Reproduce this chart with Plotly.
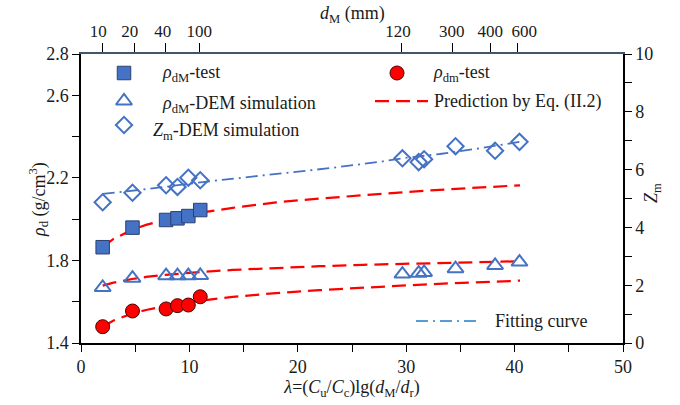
import plotly.graph_objects as go

# ---------------- data ----------------
lam_test = [2.0, 4.75, 7.85, 8.9, 9.9, 11.0]
rho_dM_test = [1.864, 1.959, 1.996, 2.004, 2.015, 2.044]
rho_dm_test = [1.479, 1.555, 1.565, 1.581, 1.584, 1.624]

lam_dem = [2.0, 4.75, 7.85, 8.9, 9.9, 11.0, 29.65, 31.15, 31.65, 34.55, 38.2, 40.45]
rho_dM_dem = [1.669, 1.714, 1.726, 1.726, 1.726, 1.727, 1.734, 1.738, 1.742, 1.760, 1.776, 1.792]
z_dem = [4.87, 5.20, 5.46, 5.40, 5.72, 5.63, 6.39, 6.26, 6.36, 6.81, 6.65, 6.96]

lam_pred = [2, 3, 4.7, 6, 7.8, 9, 11, 14, 18, 22, 26, 30, 34, 38, 40.5]
pred_dM_test = [1.864, 1.904, 1.948, 1.972, 1.997, 2.011, 2.031, 2.055, 2.081, 2.100, 2.117, 2.131, 2.145, 2.157, 2.164]
pred_dM_dem = [1.678, 1.692, 1.710, 1.720, 1.730, 1.736, 1.744, 1.754, 1.764, 1.772, 1.779, 1.784, 1.789, 1.794, 1.796]
pred_dm_test = [1.479, 1.509, 1.542, 1.560, 1.580, 1.590, 1.605, 1.623, 1.642, 1.656, 1.669, 1.679, 1.689, 1.697, 1.702]

lam_fit = [2, 6.2, 11.25, 14.4, 19, 22.7, 27.6, 29.6, 33.1, 36.5, 39.9, 40.45]
z_fit = [5.16, 5.33, 5.57, 5.71, 5.89, 6.04, 6.27, 6.39, 6.54, 6.72, 6.92, 6.96]

x_ticks = [0, 10, 20, 30, 40, 50]
rho_ticks = [1.4, 1.6, 1.8, 2.0, 2.2, 2.4, 2.6, 2.8]
rho_ticktext = ["1.4", "", "1.8", "", "2.2", "", "2.6", "2.8"]
z_ticks = [0, 1, 2, 3, 4, 5, 6, 7, 8, 9, 10]
z_ticktext = ["0", "", "2", "", "4", "", "6", "", "8", "", "10"]
# top d_M axis: tick marks and (slightly offset) label positions, in lambda units
top_tick_lam = [2.0, 4.9, 7.8, 10.9, 29.6, 34.3, 37.8, 40.3]
top_label_lam = [1.6, 4.5, 7.55, 10.9, 29.25, 34.2, 37.75, 40.9]
top_tick_text = ["10", "20", "40", "100", "120", "300", "400", "600"]

# ---------------- styling ----------------
W, H = 680, 405
ML, MR, MT, MB = 81, 57, 54, 62
FONT = "Liberation Serif"
TXT = "#1a1a1a"
BLUE = "#4472C4"
RED = "#FF0000"
FS = 18


def fx(px):
    return (px - ML) / (W - ML - MR)


def fy(py):
    return (H - MB - py) / (H - MT - MB)


fig = go.Figure()

red_dash = dict(color=RED, width=2.25, dash="14px,7px")
blue_dd = dict(color=BLUE, width=1.8, dash="12px,5px,2px,5px")

# prediction curves
for ys in (pred_dM_test, pred_dM_dem, pred_dm_test):
    fig.add_trace(go.Scatter(x=lam_pred, y=ys, mode="lines", line=red_dash,
                             showlegend=False, hoverinfo="skip"))

# fitting curve (right axis)
fig.add_trace(go.Scatter(x=lam_fit, y=z_fit, mode="lines", line=blue_dd,
                         yaxis="y2", showlegend=False, hoverinfo="skip"))

# markers
sq = dict(symbol="square", size=13.5, color=BLUE, line=dict(color="#2F3F6F", width=1))
tri = dict(symbol="triangle-up-open", size=14, color=BLUE, line=dict(color=BLUE, width=2))
dia = dict(symbol="diamond-open", size=12.5, color=BLUE, line=dict(color=BLUE, width=2))
cir = dict(symbol="circle", size=14, color=RED, line=dict(color="#4a0000", width=1))

fig.add_trace(go.Scatter(x=lam_test, y=rho_dM_test, mode="markers", marker=sq,
                         name="ρdM-test", showlegend=False))
fig.add_trace(go.Scatter(x=lam_dem, y=rho_dM_dem, mode="markers", marker=tri,
                         name="ρdM-DEM simulation", showlegend=False))
fig.add_trace(go.Scatter(x=lam_dem, y=z_dem, mode="markers", marker=dia, yaxis="y2",
                         name="Zm-DEM simulation", showlegend=False))
fig.add_trace(go.Scatter(x=lam_test, y=rho_dm_test, mode="markers", marker=cir,
                         name="ρdm-test", showlegend=False))

# ---------------- hand-made legend (overlay axes in paper fractions) ----------------
leg = dict(xaxis="x3", yaxis="y3", showlegend=False, hoverinfo="skip")
fig.add_trace(go.Scatter(x=[fx(124)], y=[fy(73)], mode="markers", marker=sq, **leg))
fig.add_trace(go.Scatter(x=[fx(124)], y=[fy(101)], mode="markers", marker=tri, **leg))
fig.add_trace(go.Scatter(x=[fx(124)], y=[fy(125)], mode="markers", marker=dia, **leg))
fig.add_trace(go.Scatter(x=[fx(397)], y=[fy(73)], mode="markers", marker=cir, **leg))
fig.add_trace(go.Scatter(x=[fx(375), fx(428)], y=[fy(101), fy(101)], mode="lines",
                         line=red_dash, **leg))
fig.add_trace(go.Scatter(x=[fx(416), fx(478)], y=[fy(321), fy(321)], mode="lines",
                         line=dict(color="#5B9BD5", width=2.2, dash="12px,5px,2px,5px"), **leg))

legend_texts = [
    (160, 74, "<i>ρ</i><sub>dM</sub>-test"),
    (160, 104, "<i>ρ</i><sub>dM</sub>-DEM simulation"),
    (151, 131, "<i>Z</i><sub>m</sub>-DEM simulation"),
    (431, 74, "<i>ρ</i><sub>dm</sub>-test"),
    (432, 101, "Prediction by Eq. (II.2)"),
    (493, 321, "Fitting curve"),
]
annotations = []
for px, py, t in legend_texts:
    annotations.append(dict(x=fx(px), y=fy(py), xref="paper", yref="paper", text=t,
                            showarrow=False, xanchor="left", yanchor="middle",
                            font=dict(family=FONT, size=FS, color=TXT)))

# axis titles placed as text
annotations.append(dict(x=fx(38), y=fy(200), xref="paper", yref="paper",
                        text="<i>ρ</i><sub>d</sub> (g/cm<sup>3</sup>)", textangle=-90,
                        showarrow=False, xanchor="center", yanchor="middle",
                        font=dict(family=FONT, size=FS, color=TXT)))
annotations.append(dict(x=fx(652), y=fy(193), xref="paper", yref="paper",
                        text="<i>Z</i><sub>m</sub>", textangle=-90, showarrow=False,
                        xanchor="center", yanchor="middle",
                        font=dict(family=FONT, size=FS, color=TXT)))
annotations.append(dict(x=fx(352), y=fy(14), xref="paper", yref="paper",
                        text="<i>d</i><sub>M</sub> (mm)", showarrow=False,
                        xanchor="center", yanchor="middle",
                        font=dict(family=FONT, size=FS, color=TXT)))

axis_common = dict(showgrid=False, zeroline=False, ticks="outside", ticklen=7,
                   tickwidth=1.3, tickcolor="black", showline=True, linecolor="black",
                   linewidth=1.5, tickangle=0,
                   tickfont=dict(family=FONT, size=FS, color=TXT))

fig.update_layout(
    width=W, height=H,
    margin=dict(l=ML, r=MR, t=MT, b=MB, autoexpand=False),
    paper_bgcolor="white", plot_bgcolor="white",
    font=dict(family=FONT, size=FS, color=TXT),
    xaxis=dict(range=[0, 50], tickvals=x_ticks,
               minor=dict(dtick=5, ticks="outside", ticklen=7, tickcolor="black", tickwidth=1.3),
               title=dict(text="<i>λ</i>=(<i>C</i><sub>u</sub>/<i>C</i><sub>c</sub>)lg(<i>d</i><sub>M</sub>/<i>d</i><sub>r</sub>)",
                          standoff=2, font=dict(family=FONT, size=FS, color=TXT)),
               **axis_common),
    xaxis2=dict(range=[0, 50], overlaying="x", side="top", anchor="y",
                tickmode="array", tickvals=top_tick_lam, showticklabels=False,
                **{**axis_common, "linecolor": "#44546A", "ticklen": 9}),
    xaxis4=dict(range=[0, 50], overlaying="x", side="top", anchor="y",
                tickmode="array", tickvals=top_label_lam, ticktext=top_tick_text,
                ticks="", showline=False, showgrid=False, zeroline=False, tickangle=0,
                ticklabelstandoff=13,
                tickfont=dict(family=FONT, size=17, color=TXT)),
    yaxis=dict(range=[1.4, 2.8], tickmode="array", tickvals=rho_ticks, ticktext=rho_ticktext,
               **axis_common),
    yaxis2=dict(range=[0, 10], overlaying="y", side="right", anchor="x",
                tickmode="array", tickvals=z_ticks, ticktext=z_ticktext,
                **axis_common),
    xaxis3=dict(range=[0, 1], overlaying="x", anchor="y3", visible=False, fixedrange=True),
    yaxis3=dict(range=[0, 1], overlaying="y", anchor="x3", visible=False, fixedrange=True),
    annotations=annotations,
    showlegend=False,
)

# make the top axes exist so they are drawn
fig.add_trace(go.Scatter(x=[None], y=[None], xaxis="x2", yaxis="y", showlegend=False,
                         hoverinfo="skip"))
fig.add_trace(go.Scatter(x=[None], y=[None], xaxis="x4", yaxis="y", showlegend=False,
                         hoverinfo="skip"))

fig.write_html("out.html")
